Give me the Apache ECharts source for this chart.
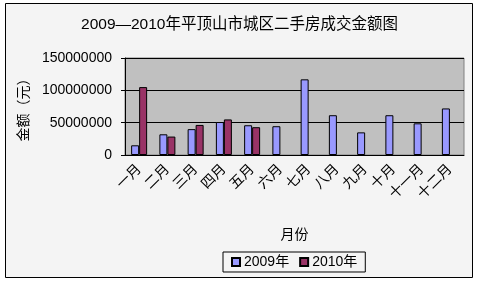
<!DOCTYPE html>
<html><head><meta charset="utf-8">
<script src="https://cdn.jsdelivr.net/npm/echarts@6/dist/echarts.min.js"></script>
<style>html,body{margin:0;padding:0;background:#fff}#c{width:479px;height:284px}</style>
</head><body><div id="c"></div>
<script>
const months = ['一月','二月','三月','四月','五月','六月','七月','八月','九月','十月','十一月','十二月'];
const s2009 = [15000000, 32000000, 40000000, 51000000, 46000000, 44500000, 117000000, 61500000, 35000000, 61500000, 49000000, 72000000];
const s2010 = [105000000, 28500000, 46500000, 55000000, 43000000, null, null, null, null, null, null, null];
const yTicks = [0, 50000000, 100000000, 150000000];

const FONT = '"Liberation Sans","Noto Sans CJK SC",sans-serif';
const chart = echarts.init(document.getElementById('c'), null, {renderer:'canvas'});
chart.setOption({
  backgroundColor: '#ffffff',
  animation: false,
  textStyle: {fontFamily: FONT, color: '#000'},
  graphic: [{
    type: 'rect', z: -10, silent: true,
    shape: {x: 5.5, y: 3.5, width: 467, height: 274},
    style: {fill: '#F4F4F4', stroke: '#000', lineWidth: 1}
  }],
  title: {
    text: '2009—2010年平顶山市城区二手房成交金额图',
    left: 'center', top: 12,
    textStyle: {fontFamily: FONT, fontSize: 15.5, fontWeight: 'normal', color: '#000'}
  },
  legend: {
    data: ['2009年','2010年'],
    left: 223, top: 252,
    borderColor: '#000', borderWidth: 1,
    padding: [3, 8, 3, 8],
    itemWidth: 8, itemHeight: 8, itemGap: 10,
    icon: 'rect',
    textStyle: {fontFamily: FONT, fontSize: 14, color: '#000', padding: [0,0,0,-1]}
  },
  grid: {left: 125, right: 15, top: 58, bottom: 129, show: true, backgroundColor: '#C0C0C0', borderColor: '#808080', borderWidth: 1, containLabel: false},
  xAxis: {
    type: 'category', data: months, boundaryGap: true,
    name: '月份', nameLocation: 'middle', nameGap: 73,
    nameTextStyle: {fontFamily: FONT, fontSize: 14, color: '#000'},
    axisLine: {lineStyle: {color: '#000', width: 1}},
    axisTick: {inside: true, length: 4, lineStyle: {color: '#000'}},
    axisLabel: {rotate: 45, interval: 0, margin: 12, fontFamily: FONT, fontSize: 14, color: '#000'}
  },
  yAxis: {
    type: 'value', min: 0, max: 150000000, interval: 50000000,
    name: '金额（元）', nameLocation: 'middle', nameGap: 88, nameRotate: 90,
    nameTextStyle: {fontFamily: FONT, fontSize: 14, color: '#000'},
    axisLine: {show: true, lineStyle: {color: '#000', width: 1}},
    axisTick: {show: true, inside: false, length: 4, lineStyle: {color: '#000'}},
    axisLabel: {margin: 13, fontFamily: FONT, fontSize: 14, color: '#000',
      formatter: v => yTicks.includes(v) ? String(v) : ''},
    splitLine: {show: true, lineStyle: {color: '#000', width: 1}}
  },
  series: [
    {name: '2009年', type: 'bar', data: s2009, barWidth: 8, barGap: '0%',
     itemStyle: {color: '#9999FF', borderColor: '#000', borderWidth: 1}},
    {name: '2010年', type: 'bar', data: s2010, barWidth: 8, barGap: '0%',
     itemStyle: {color: '#993366', borderColor: '#000', borderWidth: 1}}
  ]
});
</script></body></html>
